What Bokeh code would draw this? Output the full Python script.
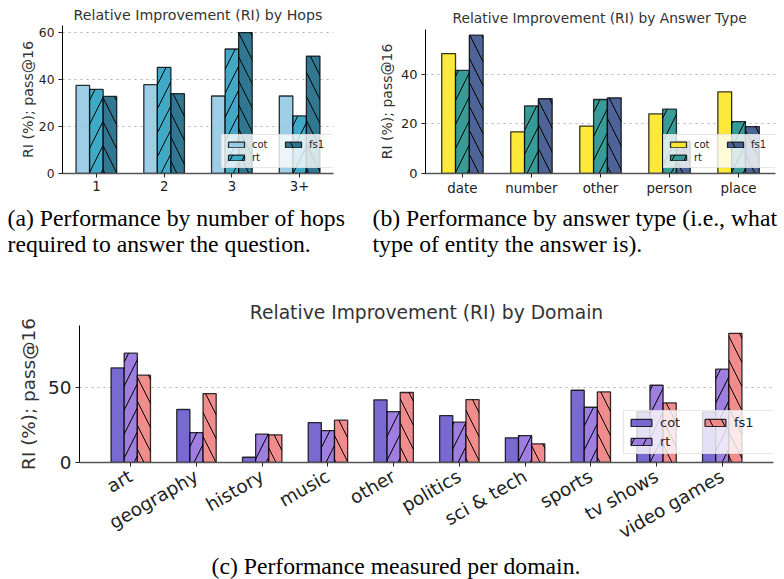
import math
from bokeh.plotting import figure
from bokeh.models import (FactorRange, Range1d, Legend, LegendItem, Label,
                          SingleIntervalTicker, ColumnDataSource, Spacer)
from bokeh.transform import dodge
from bokeh.layouts import column, row
from bokeh.embed import file_html
from bokeh.resources import INLINE

# ---------------- data ----------------
series = ["cot", "rt", "fs1"]

hops = ["1", "2", "3", "3+"]
hops_cot = [37.5, 37.8, 33.0, 33.0]
hops_rt = [35.8, 45.2, 53.0, 24.5]
hops_fs1 = [32.8, 34.0, 60.0, 50.0]

atypes = ["date", "number", "other", "person", "place"]
atype_cot = [48.3, 16.8, 19.1, 24.0, 32.9]
atype_rt = [41.5, 27.2, 29.8, 25.9, 20.9]
atype_fs1 = [55.7, 30.1, 30.5, 13.0, 18.9]

domains = ["art", "geography", "history", "music", "other", "politics",
           "sci & tech", "sports", "tv shows", "video games"]
dom_cot = [62.8, 35.2, 3.5, 26.5, 41.6, 31.2, 16.4, 48.0, 33.6, 33.4]
dom_rt = [72.6, 19.9, 18.8, 21.2, 33.8, 26.8, 17.9, 36.7, 51.3, 62.0]
dom_fs1 = [58.0, 45.8, 18.4, 28.1, 46.5, 41.8, 12.4, 46.9, 39.6, 85.8]

title_a = "Relative Improvement (RI) by Hops"
title_b = "Relative Improvement (RI) by Answer Type"
title_c = "Relative Improvement (RI) by Domain"
ylabel = "RI (%); pass@16"
cap_a = ["(a) Performance by number of hops", "required to answer the question."]
cap_b = ["(b) Performance by answer type (i.e., what", "type of entity the answer is)."]
cap_c = ["(c) Performance measured per domain."]

colors_a = ["#92c9e3", "#2aa0c0", "#1b6886"]
colors_b = ["#fde725", "#21918c", "#3b528b"]
colors_c = ["#6a5acd", "#9370db", "#f08080"]
hatches = [" ", "/", "\\"]

FONT = "DejaVu Sans"
SERIF = "Liberation Serif"


def panel(cats, vals, colors, title, ymax, interval, W, H, bl, bt, br, bb,
          pad, fs_title, fs_xtick, fs_ytick, fs_label, fs_leg, title_standoff,
          label_standoff, leg_loc, glyph_w, glyph_h, leg_label_w, leg_spacing,
          hatch_scale, xorient=None, x_standoff=3):
    data = {"cat": cats}
    for s, v in zip(series, vals):
        data[s] = v
    src = ColumnDataSource(data)
    p = figure(x_range=FactorRange(*cats, range_padding=pad),
               y_range=Range1d(0, ymax),
               width=W, height=H,
               min_border_left=bl, min_border_top=bt,
               min_border_right=br, min_border_bottom=bb,
               toolbar_location=None, output_backend="svg", title=title)
    rends = []
    for i, s in enumerate(series):
        r = p.vbar(x=dodge("cat", (i - 1) * 0.2, range=p.x_range), top=s,
                   width=0.2, source=src, fill_color=colors[i], fill_alpha=0.9,
                   line_color="black", line_width=1.3, line_alpha=0.8,
                   hatch_pattern=hatches[i], hatch_color="black",
                   hatch_scale=hatch_scale, hatch_weight=1)
        rends.append(r)
    t = SingleIntervalTicker(interval=interval, num_minor_ticks=0)
    p.yaxis.ticker = t
    p.ygrid.ticker = t
    p.ygrid.grid_line_dash = "dotted"
    p.ygrid.grid_line_color = "#b0b0b0"
    p.xgrid.grid_line_color = None
    p.outline_line_color = None
    p.background_fill_color = None
    for ax, fs in ((p.xaxis[0], fs_xtick), (p.yaxis[0], fs_ytick)):
        ax.major_label_text_font = FONT
        ax.major_label_text_font_size = fs
        ax.major_label_text_color = "#222222"
        ax.major_tick_out = 4
        ax.major_tick_in = 0
        ax.minor_tick_line_color = None
        ax.major_tick_line_color = "#222222"
        ax.axis_label_text_font = FONT
        ax.axis_label_text_font_style = "normal"
        ax.axis_label_text_font_size = fs_label
        ax.axis_label_text_color = "#333333"
    p.yaxis.axis_label = ylabel
    p.yaxis.axis_label_standoff = label_standoff
    p.yaxis.major_label_standoff = 4
    p.yaxis.axis_line_color = "black"
    p.xaxis.axis_line_color = "#555555"
    p.xaxis.axis_line_width = 1.5
    p.xaxis.major_label_standoff = x_standoff
    if xorient is not None:
        p.xaxis.major_label_orientation = xorient
    if title:
        p.title.text_font = FONT
        p.title.text_font_style = "normal"
        p.title.text_font_size = fs_title
        p.title.text_color = "#333333"
        p.title.align = "center"
        p.title.standoff = title_standoff
    leg = Legend(items=[LegendItem(label=s, renderers=[r]) for s, r in zip(series, rends)],
                 ncols=2, location=leg_loc, margin=0, padding=4,
                 spacing=leg_spacing, label_standoff=6,
                 glyph_width=glyph_w, glyph_height=glyph_h,
                 label_width=leg_label_w, label_height=glyph_h,
                 label_text_font=FONT, label_text_font_size=fs_leg,
                 label_text_color="#222222",
                 border_line_color="#cccccc", border_line_width=1,
                 background_fill_alpha=0.8)
    p.add_layout(leg)
    return p


def strip(w, h, lines, x, ys, font, size, color):
    p = figure(width=w, height=h, x_range=Range1d(0, w), y_range=Range1d(0, h),
               min_border=0, toolbar_location=None, output_backend="svg",
               x_axis_type=None, y_axis_type=None, title=None)
    p.outline_line_color = None
    p.grid.visible = False
    p.background_fill_color = None
    for line, y in zip(lines, ys):
        p.add_layout(Label(x=x, y=y, text=line, text_font=font,
                           text_font_size=size, text_color=color,
                           text_baseline="middle", text_align="left"))
    return p


pa = panel(hops, [hops_cot, hops_rt, hops_fs1], colors_a, None, 63, 20,
           352, 175, 62, 0, 19, 27, 0.0, None, "13.3px", "12.3px", "14.2px", "10px", 0, 0,
           (159, 5), 20, 7, 29, 2, 24)
pb = panel(atypes, [atype_cot, atype_rt, atype_fs1], colors_b, None, 58, 20,
           432, 171, 73, 0, 9, 27, 0.014, None, "13.4px", "13px", "14px", "10px", 0, 3,
           (238, 5), 20, 7, 29, 2, 24)
pc = panel(domains, [dom_cot, dom_rt, dom_fs1], colors_c, title_c, 91, 50,
           784, 294, 79, 65, 11, 92, 0.056, "18.7px", "18.4px", "18.4px", "18.4px", "13px", 6, 6,
           (544, 8), 26, 9, 38, 4, 24, xorient=math.pi / 6, x_standoff=8)

ta = strip(279, 25, [title_a], 1, [11], FONT, "14.2px", "#333333")
tb = strip(332, 29, [title_b], 1, [12], FONT, "13.8px", "#333333")
ca = strip(352, 60, cap_a, 7, [43, 17], SERIF, "23.7px", "black")
cb = strip(432, 60, cap_b, 20, [43, 17], SERIF, "23.7px", "black")
cc = strip(577, 25, cap_c, 4, [14], SERIF, "23.7px", "black")

top_a = column(row(Spacer(width=72, height=25), ta), pa)
top_b = column(row(Spacer(width=99, height=29), tb), pb)
bottom = row(Spacer(width=207, height=25), cc)

layout = column(row(top_a, top_b), row(ca, cb), pc, bottom)
open("out.html", "w").write(file_html(layout, INLINE))
